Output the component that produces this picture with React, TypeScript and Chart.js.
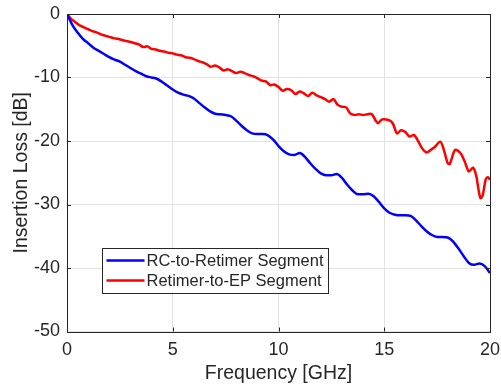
import React, { useEffect, useRef } from "react";
import { Chart, registerables } from "chart.js";

Chart.register(...registerables);

const seriesNames = ["RC-to-Retimer Segment", "Retimer-to-EP Segment"];
const seriesColors = ["#0000ff", "#ff0000"];

const blueFreq = [
  0, 0.25, 0.5, 0.75, 1.0, 1.25, 1.5, 1.75, 2.0, 2.25, 2.5, 2.75, 3.0, 3.25, 3.5, 3.75,
  4.0, 4.25, 4.5, 4.75, 5.0, 5.25, 5.5, 5.75, 6.0, 6.25, 6.5, 6.75, 7.0, 7.25, 7.5, 7.75,
  8.0, 8.25, 8.5, 8.75, 9.0, 9.25, 9.5, 9.75, 10.0, 10.25, 10.5, 10.75, 11.0, 11.25, 11.5,
  11.75, 12.0, 12.25, 12.5, 12.75, 13.0, 13.25, 13.5, 13.75, 14.0, 14.25, 14.5, 14.75, 15.0,
  15.25, 15.5, 15.75, 16.0, 16.25, 16.5, 16.75, 17.0, 17.25, 17.5, 17.75, 18.0, 18.25, 18.5,
  18.75, 19.0, 19.25, 19.5, 19.75, 20.0,
];
const blueLoss = [
  0, -1.7, -2.9, -3.9, -4.6, -5.3, -5.8, -6.3, -6.8, -7.2, -7.5, -8.0, -8.5, -9.0, -9.4, -9.8,
  -10.0, -10.2, -10.7, -11.3, -11.9, -12.4, -12.7, -12.9, -13.3, -14.0, -14.7, -15.3, -15.7,
  -15.8, -15.9, -16.1, -16.8, -17.6, -18.3, -18.8, -18.9, -18.9, -19.1, -19.8, -20.8, -21.6,
  -22.1, -22.2, -21.9, -22.5, -23.5, -24.4, -25.1, -25.4, -25.4, -25.2, -25.8, -26.9, -27.8,
  -28.4, -28.4, -28.3, -28.7, -29.6, -30.6, -31.3, -31.6, -31.7, -31.7, -31.8, -32.5, -33.4,
  -34.2, -34.8, -35.1, -35.1, -35.2, -35.8, -36.9, -38.1, -39.2, -39.5, -39.3, -39.7, -40.8,
];

const redFreq = [
  0, 0.2, 0.4, 0.6, 0.8, 1.0, 1.2, 1.4, 1.6, 1.8, 2.0, 2.2, 2.4, 2.6, 2.8, 3.0, 3.2, 3.4,
  3.6, 3.8, 4.0, 4.2, 4.4, 4.6, 4.8, 5.0, 5.2, 5.4, 5.6, 5.8, 6.0, 6.2, 6.4, 6.6, 6.8, 7.0,
  7.2, 7.4, 7.6, 7.8, 8.0, 8.2, 8.4, 8.6, 8.8, 9.0, 9.2, 9.4, 9.6, 9.8, 10.0, 10.2, 10.4,
  10.6, 10.8, 11.0, 11.2, 11.4, 11.6, 11.8, 12.0, 12.2, 12.4, 12.6, 12.8, 13.0, 13.2, 13.4,
  13.6, 13.8, 14.0, 14.2, 14.4, 14.6, 14.7, 14.9, 15.2, 15.4, 15.6, 15.8, 16.0, 16.2, 16.4,
  16.6, 16.8, 17.0, 17.2, 17.4, 17.65, 17.8, 18.0, 18.1, 18.35, 18.6, 18.8, 19.0, 19.2,
  19.35, 19.45, 19.55, 19.65, 19.8, 19.9, 20.0,
];
const redLoss = [
  0, -0.8, -1.3, -1.8, -2.1, -2.4, -2.7, -2.9, -3.2, -3.4, -3.6, -3.8, -3.9, -4.1, -4.25,
  -4.4, -4.6, -4.8, -5.2, -5.1, -5.5, -5.6, -5.8, -5.9, -6.1, -6.2, -6.4, -6.5, -6.8, -6.9,
  -7.1, -7.4, -7.6, -7.9, -8.3, -8.1, -8.4, -8.9, -8.7, -9.0, -9.3, -9.1, -9.3, -9.6, -9.8,
  -10.1, -10.5, -10.6, -11.2, -11.1, -11.5, -12.1, -11.8, -12.0, -12.6, -12.2, -12.5, -12.9,
  -12.4, -12.8, -13.1, -13.4, -13.8, -13.4, -14.3, -14.6, -14.7, -15.7, -15.9, -15.8, -15.9,
  -15.8, -15.75, -16.8, -17.2, -16.6, -16.7, -17.2, -18.8, -18.3, -18.6, -19.3, -19.05,
  -20.0, -21.2, -21.8, -21.4, -20.9, -20.1, -21.2, -23.5, -23.6, -21.4, -21.9, -23.2, -24.8,
  -24.2, -25.5, -27.5, -29.0, -28.6, -26.0, -25.7, -26.1,
];

const xTitle = "Frequency [GHz]";
const yTitle = "Insertion Loss [dB]";

const FONT = "'Liberation Sans', Arial, sans-serif";
const TEXT = "#262626";

const framePlugin = {
  id: "frame",
  afterDatasetsDraw(chart: any) {
    const { ctx, chartArea: ca, scales } = chart;
    ctx.save();
    ctx.strokeStyle = TEXT;
    ctx.lineWidth = 1;
    ctx.strokeRect(Math.round(ca.left) + 0.5, Math.round(ca.top) + 0.5, Math.round(ca.right - ca.left), Math.round(ca.bottom - ca.top));
    const len = 4;
    ctx.beginPath();
    scales.x.ticks.forEach((t: any) => {
      const px = Math.round(scales.x.getPixelForValue(t.value)) + 0.5;
      ctx.moveTo(px, ca.top);
      ctx.lineTo(px, ca.top + len);
      ctx.moveTo(px, ca.bottom);
      ctx.lineTo(px, ca.bottom - len);
    });
    scales.y.ticks.forEach((t: any) => {
      const py = Math.round(scales.y.getPixelForValue(t.value)) + 0.5;
      ctx.moveTo(ca.left, py);
      ctx.lineTo(ca.left + len, py);
      ctx.moveTo(ca.right, py);
      ctx.lineTo(ca.right - len, py);
    });
    ctx.stroke();
    ctx.restore();
  },
  afterDraw(chart: any) {
    const { ctx, chartArea: ca } = chart;
    const ds = chart.data.datasets;
    ctx.save();
    ctx.font = `16.5px ${FONT}`;
    const boxL = Math.round(ca.left + 35) + 0.5;
    const boxT = Math.round(ca.top + 233.5) + 0.5;
    const textX = boxL + 44;
    let maxW = 0;
    ds.forEach((d: any) => (maxW = Math.max(maxW, ctx.measureText(d.label).width)));
    const boxW = Math.round(textX + maxW + 5 - boxL);
    const boxH = 45;
    ctx.fillStyle = "#ffffff";
    ctx.fillRect(boxL, boxT, boxW, boxH);
    ctx.strokeStyle = TEXT;
    ctx.lineWidth = 1;
    ctx.strokeRect(boxL, boxT, boxW, boxH);
    ds.forEach((d: any, i: number) => {
      const cy = boxT + 12 + i * 20;
      ctx.strokeStyle = d.borderColor;
      ctx.lineWidth = 2.5;
      ctx.beginPath();
      ctx.moveTo(boxL + 4, cy);
      ctx.lineTo(boxL + 42, cy);
      ctx.stroke();
      ctx.fillStyle = TEXT;
      ctx.textBaseline = "middle";
      ctx.textAlign = "left";
      ctx.fillText(d.label, textX, cy + 1);
    });
    ctx.restore();
  },
};

export default function App() {
  const ref = useRef<HTMLCanvasElement | null>(null);
  useEffect(() => {
    if (!ref.current) return;
    const chart = new Chart(ref.current, {
      type: "line",
      data: {
        datasets: [
          {
            label: seriesNames[0],
            data: blueFreq.map((f, i) => ({ x: f, y: blueLoss[i] })),
            borderColor: seriesColors[0],
            borderWidth: 2.5,
            pointRadius: 0,
            tension: 0.4,
            cubicInterpolationMode: "monotone",
          },
          {
            label: seriesNames[1],
            data: redFreq.map((f, i) => ({ x: f, y: redLoss[i] })),
            borderColor: seriesColors[1],
            borderWidth: 2.5,
            pointRadius: 0,
            tension: 0.3,
          },
        ],
      },
      options: {
        responsive: false,
        animation: false,
        layout: { padding: { top: 14, right: 11, left: 0, bottom: 0 } },
        plugins: { legend: { display: false }, tooltip: { enabled: false } },
        scales: {
          x: {
            type: "linear",
            min: 0,
            max: 20,
            ticks: { stepSize: 5, color: TEXT, font: { family: FONT, size: 18 }, padding: 8, maxRotation: 0 },
            grid: { color: "#e3e3e3", drawTicks: false },
            border: { display: false },
            title: { display: true, text: xTitle, color: TEXT, font: { family: FONT, size: 19.5 }, padding: { top: 0, bottom: 2 } },
            afterFit(scale: any) {
              scale.height = 55.5;
              scale.paddingLeft = 0;
              scale.paddingRight = 0;
            },
          },
          y: {
            type: "linear",
            min: -50,
            max: 0,
            ticks: { stepSize: 10, color: TEXT, font: { family: FONT, size: 18 }, padding: 7 },
            grid: { color: "#e3e3e3", drawTicks: false },
            border: { display: false },
            title: { display: true, text: yTitle, color: TEXT, font: { family: FONT, size: 19.5 }, padding: { top: 10, bottom: 0 } },
            afterFit(scale: any) {
              scale.width = 67;
              scale.paddingTop = 0;
              scale.paddingBottom = 0;
            },
          },
        },
      },
      plugins: [framePlugin],
    } as any);
    return () => chart.destroy();
  }, []);
  return (
    <div style={{ position: "absolute", left: 0, top: 0, width: 501, height: 387, background: "#fff" }}>
      <canvas ref={ref} width={501} height={387} style={{ width: 501, height: 387 }} />
    </div>
  );
}
